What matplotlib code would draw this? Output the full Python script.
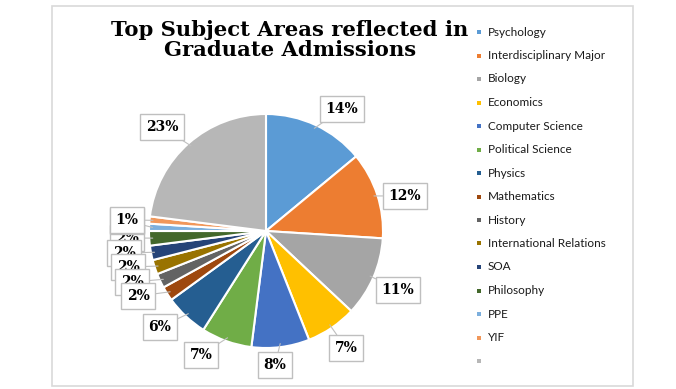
import matplotlib
matplotlib.use("Agg")
import matplotlib.pyplot as plt
import numpy as np
from matplotlib.patches import Rectangle

categories = ["Psychology", "Interdisciplinary Major", "Biology", "Economics",
              "Computer Science", "Political Science", "Physics", "Mathematics",
              "History", "International Relations", "SOA", "Philosophy", "PPE",
              "YIF", ""]
values = [14, 12, 11, 7, 8, 7, 6, 2, 2, 2, 2, 2, 1, 1, 23]
colors = ["#5B9BD5", "#ED7D31", "#A5A5A5", "#FFC000", "#4472C4", "#70AD47",
          "#255E91", "#9E480E", "#636363", "#997300", "#264478", "#43682B",
          "#7CAFDD", "#F1975A", "#B7B7B7"]
title = "Top Subject Areas reflected in\nGraduate Admissions"

W, H = 676, 389
fig = plt.figure(figsize=(W / 100, H / 100), dpi=100)

# chart frame
fig.patches.append(Rectangle((52 / W, 1 - 386 / H), (633 - 52) / W, (386 - 6) / H,
                             transform=fig.transFigure, fill=False,
                             ec="#d9d9d9", lw=1.2))

cx, cy, R = 266, 231, 117
ax = fig.add_axes([(cx - R) / W, (H - cy - R) / H, 2 * R / W, 2 * R / H])
wedges, _ = ax.pie(values, colors=colors, startangle=90, counterclock=False,
                   wedgeprops=dict(edgecolor="white", linewidth=1.5))
ax.set_xlim(-1, 1)
ax.set_ylim(-1, 1)
ax.set_aspect("equal")
ax.axis("off")

# label box centres in pixels (layout)
label_px = [(342, 109), (405, 196), (398, 290), (346, 348), (275, 365),
            (201, 355), (160, 327), (138, 296), (132, 282), (128, 267),
            (124, 253), (127, 238), (127, 221), (127, 220), (162, 127)]
zorders = [5, 5, 5, 5, 5, 5, 5, 9, 8, 7, 6, 4, 10, 11, 5]

for w, v, (px, py), z in zip(wedges, values, label_px, zorders):
    ang = np.deg2rad((w.theta1 + w.theta2) / 2)
    xy = (0.97 * np.cos(ang), 0.97 * np.sin(ang))
    xt = (px - cx) / R
    yt = (cy - py) / R
    ax.annotate(f"{v}%", xy=xy, xytext=(xt, yt), ha="center", va="center",
                fontsize=10, fontweight="bold", family="DejaVu Serif",
                annotation_clip=False, zorder=z,
                bbox=dict(boxstyle="square,pad=0.4", fc="white", ec="#bfbfbf", lw=1),
                arrowprops=dict(arrowstyle="-", color="#bfbfbf", lw=0.8,
                                shrinkA=0, shrinkB=0))

fig.text(290 / W, 1 - 40 / H, title, ha="center", va="center",
         fontsize=15.2, fontweight="bold", family="DejaVu Serif", linespacing=1.05)

# legend
y0, dy = 32, 23.5
for i, (c, col) in enumerate(zip(categories, colors)):
    y = y0 + i * dy
    fig.patches.append(Rectangle((477 / W, 1 - (y + 2) / H), 4 / W, 4 / H,
                                 transform=fig.transFigure, fc=col, ec="none"))
    fig.text(488 / W, 1 - y / H, c, ha="left", va="center", fontsize=8.5,
             family="Lato", color="#1a1a1a")

fig.savefig("out.png", dpi=100)
